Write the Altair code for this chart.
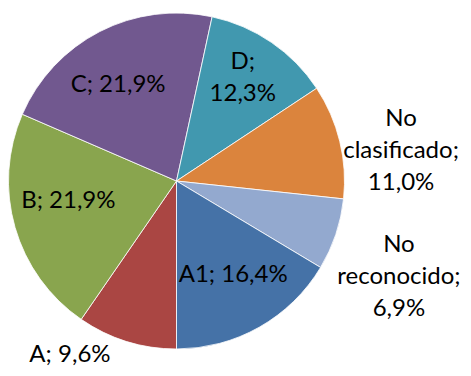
import math
import altair as alt
import pandas as pd

categories = ["A", "B", "C", "D", "No clasificado", "No reconocido", "A1"]
values = [9.6, 21.9, 21.9, 12.3, 11.0, 6.9, 16.4]
labels = ["A; 9,6%", "B; 21,9%", "C; 21,9%", "D;\n12,3%",
          "No\nclasificado;\n11,0%", "No\nreconocido;\n6,9%", "A1; 16,4%"]
colors = ["#AA4643", "#89A54E", "#71588F", "#4198AF", "#DB843D", "#93A9CF", "#4572A7"]

df = pd.DataFrame({
    "cat": categories,
    "value": values,
    "label": labels,
    "idx": list(range(len(categories))),
})

CX, CY, R = 168.5, 173, 168

theta = alt.Theta("value:Q", stack=True,
                  scale=alt.Scale(range=[math.pi, 3 * math.pi]))
order = alt.Order("idx:Q", sort="ascending")

base = alt.Chart(df)

pie = base.mark_arc(stroke="white", strokeWidth=0.8, outerRadius=R).encode(
    theta=theta,
    order=order,
    x=alt.value(CX),
    y=alt.value(CY),
    color=alt.Color("cat:N", scale=alt.Scale(domain=categories, range=colors), legend=None),
)

FONT = "Lato"


def text_layer(cat, radius, theta_offset=0.0):
    return base.transform_calculate(
        t=f"datum.cat == '{cat}' ? datum.label : ''"
    ).mark_text(
        radius=radius, thetaOffset=theta_offset, align="center", baseline="middle",
        font=FONT, fontSize=24, lineHeight=32, color="black", lineBreak="\n",
    ).encode(theta=theta, order=order, text="t:N",
             x=alt.value(CX), y=alt.value(CY))


layers = [
    text_layer("A1", 110, -0.026),
    text_layer("B", 110, 0.097),
    text_layer("C", 112, -0.074),
    text_layer("D", 136, -0.091),
    text_layer("No clasificado", 233, -0.031),
    text_layer("No reconocido", 231.5, -0.043),
    text_layer("A", 204, 0.248),
]

chart = alt.layer(pie, *layers).properties(
    width=455, height=360, padding=0,
    autosize=alt.AutoSizeParams(type="none"),
).configure_view(stroke=None)

chart.save("out.html", embed_options={"renderer": "svg", "actions": False})
